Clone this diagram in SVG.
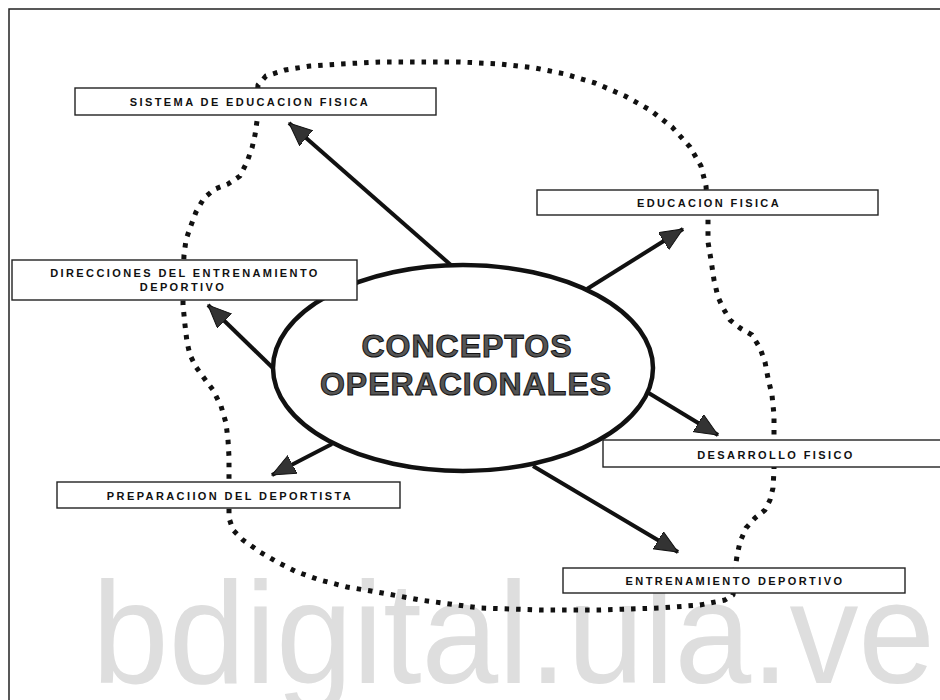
<svg xmlns="http://www.w3.org/2000/svg" width="940" height="700" viewBox="0 0 940 700">
<defs>
<style>
.box{fill:#fff;stroke:#222;stroke-width:1.4}
.lbl{font-family:"Liberation Sans",Arial,sans-serif;font-weight:bold;font-size:11px;letter-spacing:2.4px;fill:#111;text-anchor:middle}
.big{font-family:"Liberation Sans",Arial,sans-serif;font-weight:bold;font-size:32px;letter-spacing:1px;fill:#555;stroke:#111;stroke-width:1;text-anchor:middle}
.arrow{stroke:#111;stroke-width:4;fill:none;marker-end:url(#head)}
.dots{fill:none;stroke:#111;stroke-width:5;stroke-dasharray:4.5 7;stroke-linejoin:round}
.wm{font-family:"Liberation Sans",Arial,sans-serif;font-size:145px;fill:#dedede}
</style>
<marker id="head" markerUnits="userSpaceOnUse" markerWidth="24" markerHeight="22" refX="23" refY="10" orient="auto">
<path d="M0,0 L23,10 L0,20 Z" fill="#333" stroke="#111" stroke-width="1"/>
</marker>
</defs>
<rect width="940" height="700" fill="#fff"/>
<text class="wm" x="92" y="683" textLength="843" lengthAdjust="spacingAndGlyphs">bdigital.ula.ve</text>
<path d="M9,700 L9,9 L940,9" fill="none" stroke="#222" stroke-width="1.5"/>
<g id="boundary">
<path class="dots" d="M257,100 L258,85 L266,76 L285,70 L310,66 L340,64 L380,62 L420,62 L460,62 L500,64 L535,68 L565,74 L595,83 L625,96 L650,110 L672,127 L690,147 L701,166 L706,186 L707,200 L708,218 L708,242 L711,260 L714,280 L718,297 L723,308 L730,320 L740,328 L752,335 L760,348 L765,362 L768,378 L772,395 L774,415 L774,440 L774,455 L774,470 L773,488 L770,500 L765,510 L755,518 L746,528 L740,542 L737,556 L735,570 L734,585 L733,595 L725,600 L700,605 L660,608 L600,610 L540,610 L480,608 L420,600 L377,592 L347,587 L320,580 L297,572 L277,562 L260,552 L243,540 L233,530 L229,518 L229,495 L229,478 L229,457 L228,440 L226,423 L221,406 L213,390 L204,378 L196,367 L190,355 L187,342 L185,325 L183,305 L183,280 L184,255 L186,240 L190,228 L196,212 L204,198 L215,189 L228,184 L240,176 L247,162 L252,148 L255,135 L257,121 Z"/>
</g>
<g id="connectors">
<line class="arrow" x1="452" y1="266" x2="289" y2="123"/>
<line class="arrow" x1="587" y1="289" x2="683" y2="229"/>
<line class="arrow" x1="276" y1="371" x2="208" y2="305"/>
<line class="arrow" x1="647" y1="392" x2="718" y2="435"/>
<line class="arrow" x1="533" y1="466" x2="678" y2="552"/>
<line class="arrow" x1="332" y1="444" x2="272" y2="475"/>
</g>
<g id="center">
<ellipse cx="463" cy="368" rx="190" ry="103" fill="#fff" stroke="#111" stroke-width="4.5"/>
<text class="big" x="467" y="357">CONCEPTOS</text>
<text class="big" x="466" y="395">OPERACIONALES</text>
</g>
<g id="sistema">
<rect class="box" x="75" y="88" width="361" height="27"/>
<text class="lbl" x="250" y="106">SISTEMA DE EDUCACION FISICA</text>
</g>
<g id="educacion">
<rect class="box" x="537" y="190" width="341" height="25"/>
<text class="lbl" x="709" y="207">EDUCACION FISICA</text>
</g>
<g id="direcciones">
<rect class="box" x="12" y="260" width="345" height="40"/>
<text class="lbl" x="185" y="277">DIRECCIONES DEL ENTRENAMIENTO</text>
<text class="lbl" x="183" y="291">DEPORTIVO</text>
</g>
<g id="desarrollo">
<rect class="box" x="603" y="440" width="345" height="27"/>
<text class="lbl" x="776" y="459">DESARROLLO FISICO</text>
</g>
<g id="preparacion">
<rect class="box" x="57" y="482" width="343" height="26"/>
<text class="lbl" x="230" y="500">PREPARACIION DEL DEPORTISTA</text>
</g>
<g id="entrenamiento">
<rect class="box" x="563" y="568" width="342" height="25"/>
<text class="lbl" x="735" y="585">ENTRENAMIENTO DEPORTIVO</text>
</g>
</svg>
